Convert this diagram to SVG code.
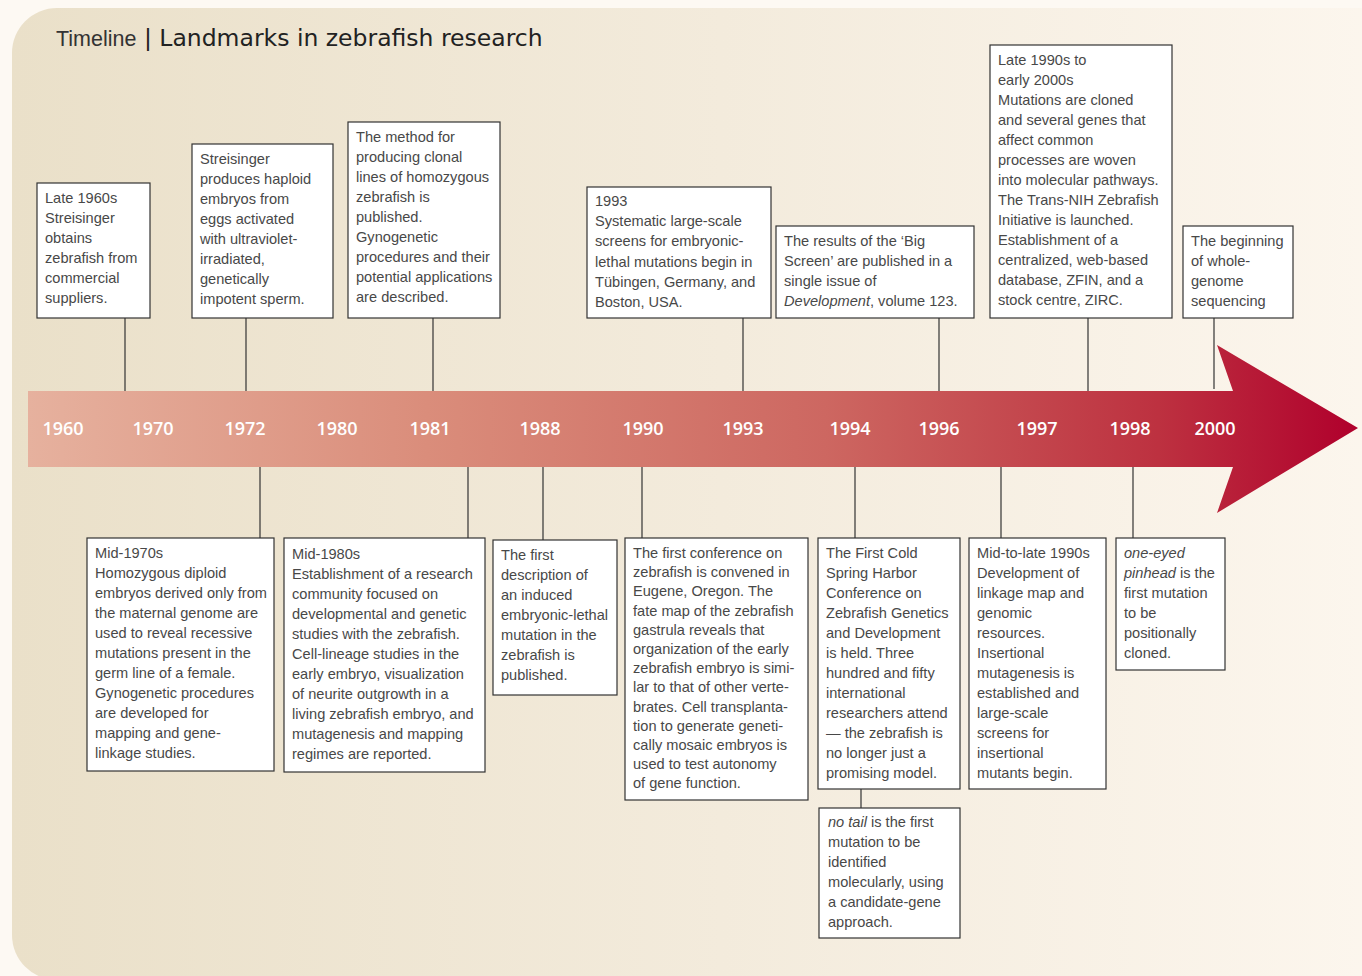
<svg xmlns="http://www.w3.org/2000/svg" width="1362" height="976" viewBox="0 0 1362 976">
<defs>
<linearGradient id="bg" x1="0" y1="0" x2="1" y2="0">
<stop offset="0" stop-color="#eae0c9"/>
<stop offset="0.5" stop-color="#f3ebdc"/>
<stop offset="1" stop-color="#fdf7ef"/>
</linearGradient>
<linearGradient id="arr" gradientUnits="userSpaceOnUse" x1="28" y1="0" x2="1358" y2="0">
<stop offset="0" stop-color="#e6b19e"/>
<stop offset="0.3" stop-color="#da8d7b"/>
<stop offset="0.6" stop-color="#cd6761"/>
<stop offset="0.85" stop-color="#bd3140"/>
<stop offset="1" stop-color="#b0002c"/>
</linearGradient>
<style>
.box{fill:#ffffff;stroke:#333333;stroke-width:1.2}
.t{font-family:"Liberation Sans",Arial,sans-serif;font-size:14.6px;fill:#484848}
.i{font-style:italic}
.yr{font-family:"Open Sans","DejaVu Sans",sans-serif;font-weight:600;font-size:18px;fill:#ffffff;text-anchor:middle}
.c{stroke:#333333;stroke-width:1.2;fill:none}
</style>
</defs>
<rect x="0" y="0" width="1362" height="976" fill="#fdf9f3"/>
<rect x="12" y="8" width="1420" height="972" rx="45" ry="45" fill="url(#bg)"/>
<text x="56" y="46" font-family="Liberation Sans,Arial,sans-serif" font-size="21.5" fill="#333">Timeline<tspan font-family="DejaVu Sans,sans-serif" font-size="23.5" fill="#222"> | Landmarks in zebrafish research</tspan></text>

<g id="arrow">
<path d="M28,391 L1233,391 L1217,345 L1358,428 L1217,513 L1233,467 L28,467 Z" fill="url(#arr)"/>
<text class="yr" x="63" y="435">1960</text>
<text class="yr" x="153" y="435">1970</text>
<text class="yr" x="245" y="435">1972</text>
<text class="yr" x="337" y="435">1980</text>
<text class="yr" x="430" y="435">1981</text>
<text class="yr" x="540" y="435">1988</text>
<text class="yr" x="643" y="435">1990</text>
<text class="yr" x="743" y="435">1993</text>
<text class="yr" x="850" y="435">1994</text>
<text class="yr" x="939" y="435">1996</text>
<text class="yr" x="1037" y="435">1997</text>
<text class="yr" x="1130" y="435">1998</text>
<text class="yr" x="1215" y="435">2000</text>
</g>

<g id="connectors">
<line class="c" x1="125" y1="318" x2="125" y2="391"/>
<line class="c" x1="246" y1="318" x2="246" y2="391"/>
<line class="c" x1="433" y1="318" x2="433" y2="391"/>
<line class="c" x1="743" y1="318" x2="743" y2="391"/>
<line class="c" x1="939" y1="318" x2="939" y2="391"/>
<line class="c" x1="1088" y1="318" x2="1088" y2="391"/>
<line class="c" x1="1214" y1="318" x2="1214" y2="389"/>
<line class="c" x1="260" y1="467" x2="260" y2="538"/>
<line class="c" x1="468" y1="467" x2="468" y2="538"/>
<line class="c" x1="543" y1="467" x2="543" y2="540"/>
<line class="c" x1="642" y1="467" x2="642" y2="538"/>
<line class="c" x1="855" y1="467" x2="855" y2="538"/>
<line class="c" x1="1001" y1="467" x2="1001" y2="538"/>
<line class="c" x1="1133" y1="467" x2="1133" y2="538"/>
<line class="c" x1="861" y1="789" x2="861" y2="808"/>
</g>

<g id="n1960s">
<rect class="box" x="37" y="183" width="113" height="135"/>
<text class="t" x="45" y="203"><tspan x="45">Late 1960s</tspan><tspan x="45" dy="20">Streisinger</tspan><tspan x="45" dy="20">obtains</tspan><tspan x="45" dy="20">zebrafish from</tspan><tspan x="45" dy="20">commercial</tspan><tspan x="45" dy="20">suppliers.</tspan></text>
</g>
<g id="n1972">
<rect class="box" x="192" y="144" width="141" height="174"/>
<text class="t" x="200" y="164"><tspan x="200">Streisinger</tspan><tspan x="200" dy="20">produces haploid</tspan><tspan x="200" dy="20">embryos from</tspan><tspan x="200" dy="20">eggs activated</tspan><tspan x="200" dy="20">with ultraviolet-</tspan><tspan x="200" dy="20">irradiated,</tspan><tspan x="200" dy="20">genetically</tspan><tspan x="200" dy="20">impotent sperm.</tspan></text>
</g>
<g id="n1981">
<rect class="box" x="348" y="122" width="152" height="196"/>
<text class="t" x="356" y="142"><tspan x="356">The method for</tspan><tspan x="356" dy="20">producing clonal</tspan><tspan x="356" dy="20">lines of homozygous</tspan><tspan x="356" dy="20">zebrafish is</tspan><tspan x="356" dy="20">published.</tspan><tspan x="356" dy="20">Gynogenetic</tspan><tspan x="356" dy="20">procedures and their</tspan><tspan x="356" dy="20">potential applications</tspan><tspan x="356" dy="20">are described.</tspan></text>
</g>
<g id="n1993">
<rect class="box" x="587" y="187" width="184" height="131"/>
<text class="t" x="595" y="206"><tspan x="595">1993</tspan><tspan x="595" dy="20.2">Systematic large-scale</tspan><tspan x="595" dy="20.2">screens for embryonic-</tspan><tspan x="595" dy="20.2">lethal mutations begin in</tspan><tspan x="595" dy="20.2">Tübingen, Germany, and</tspan><tspan x="595" dy="20.2">Boston, USA.</tspan></text>
</g>
<g id="n1996">
<rect class="box" x="776" y="226" width="198" height="92"/>
<text class="t" x="784" y="246"><tspan x="784">The results of the ‘Big</tspan><tspan x="784" dy="20">Screen’ are published in a</tspan><tspan x="784" dy="20">single issue of</tspan><tspan x="784" dy="20" class="i">Development</tspan><tspan>, volume 123.</tspan></text>
</g>
<g id="n1998top">
<rect class="box" x="990" y="45" width="182" height="273"/>
<text class="t" x="998" y="65"><tspan x="998">Late 1990s to</tspan><tspan x="998" dy="20">early 2000s</tspan><tspan x="998" dy="20">Mutations are cloned</tspan><tspan x="998" dy="20">and several genes that</tspan><tspan x="998" dy="20">affect common</tspan><tspan x="998" dy="20">processes are woven</tspan><tspan x="998" dy="20">into molecular pathways.</tspan><tspan x="998" dy="20">The Trans-NIH Zebrafish</tspan><tspan x="998" dy="20">Initiative is launched.</tspan><tspan x="998" dy="20">Establishment of a</tspan><tspan x="998" dy="20">centralized, web-based</tspan><tspan x="998" dy="20">database, ZFIN, and a</tspan><tspan x="998" dy="20">stock centre, ZIRC.</tspan></text>
</g>
<g id="n2000">
<rect class="box" x="1183" y="226" width="110" height="92"/>
<text class="t" x="1191" y="246"><tspan x="1191">The beginning</tspan><tspan x="1191" dy="20">of whole-</tspan><tspan x="1191" dy="20">genome</tspan><tspan x="1191" dy="20">sequencing</tspan></text>
</g>
<g id="n1970s">
<rect class="box" x="87" y="538" width="187" height="233"/>
<text class="t" x="95" y="558"><tspan x="95">Mid-1970s</tspan><tspan x="95" dy="20">Homozygous diploid</tspan><tspan x="95" dy="20">embryos derived only from</tspan><tspan x="95" dy="20">the maternal genome are</tspan><tspan x="95" dy="20">used to reveal recessive</tspan><tspan x="95" dy="20">mutations present in the</tspan><tspan x="95" dy="20">germ line of a female.</tspan><tspan x="95" dy="20">Gynogenetic procedures</tspan><tspan x="95" dy="20">are developed for</tspan><tspan x="95" dy="20">mapping and gene-</tspan><tspan x="95" dy="20">linkage studies.</tspan></text>
</g>
<g id="n1980s">
<rect class="box" x="284" y="538" width="201" height="234"/>
<text class="t" x="292" y="559"><tspan x="292">Mid-1980s</tspan><tspan x="292" dy="20">Establishment of a research</tspan><tspan x="292" dy="20">community focused on</tspan><tspan x="292" dy="20">developmental and genetic</tspan><tspan x="292" dy="20">studies with the zebrafish.</tspan><tspan x="292" dy="20">Cell-lineage studies in the</tspan><tspan x="292" dy="20">early embryo, visualization</tspan><tspan x="292" dy="20">of neurite outgrowth in a</tspan><tspan x="292" dy="20">living zebrafish embryo, and</tspan><tspan x="292" dy="20">mutagenesis and mapping</tspan><tspan x="292" dy="20">regimes are reported.</tspan></text>
</g>
<g id="n1988">
<rect class="box" x="493" y="540" width="124" height="155"/>
<text class="t" x="501" y="560"><tspan x="501">The first</tspan><tspan x="501" dy="20">description of</tspan><tspan x="501" dy="20">an induced</tspan><tspan x="501" dy="20">embryonic-lethal</tspan><tspan x="501" dy="20">mutation in the</tspan><tspan x="501" dy="20">zebrafish is</tspan><tspan x="501" dy="20">published.</tspan></text>
</g>
<g id="n1990">
<rect class="box" x="625" y="538" width="183" height="262"/>
<text class="t" x="633" y="558"><tspan x="633">The first conference on</tspan><tspan x="633" dy="19.2">zebrafish is convened in</tspan><tspan x="633" dy="19.2">Eugene, Oregon. The</tspan><tspan x="633" dy="19.2">fate map of the zebrafish</tspan><tspan x="633" dy="19.2">gastrula reveals that</tspan><tspan x="633" dy="19.2">organization of the early</tspan><tspan x="633" dy="19.2">zebrafish embryo is simi-</tspan><tspan x="633" dy="19.2">lar to that of other verte-</tspan><tspan x="633" dy="19.2">brates. Cell transplanta-</tspan><tspan x="633" dy="19.2">tion to generate geneti-</tspan><tspan x="633" dy="19.2">cally mosaic embryos is</tspan><tspan x="633" dy="19.2">used to test autonomy</tspan><tspan x="633" dy="19.2">of gene function.</tspan></text>
</g>
<g id="n1994">
<rect class="box" x="818" y="538" width="142" height="251"/>
<text class="t" x="826" y="558"><tspan x="826">The First Cold</tspan><tspan x="826" dy="20">Spring Harbor</tspan><tspan x="826" dy="20">Conference on</tspan><tspan x="826" dy="20">Zebrafish Genetics</tspan><tspan x="826" dy="20">and Development</tspan><tspan x="826" dy="20">is held. Three</tspan><tspan x="826" dy="20">hundred and fifty</tspan><tspan x="826" dy="20">international</tspan><tspan x="826" dy="20">researchers attend</tspan><tspan x="826" dy="20">— the zebrafish is</tspan><tspan x="826" dy="20">no longer just a</tspan><tspan x="826" dy="20">promising model.</tspan></text>
</g>
<g id="n1994b">
<rect class="box" x="819" y="808" width="141" height="130"/>
<text class="t" x="828" y="827"><tspan x="828" class="i">no tail</tspan><tspan> is the first</tspan><tspan x="828" dy="20">mutation to be</tspan><tspan x="828" dy="20">identified</tspan><tspan x="828" dy="20">molecularly, using</tspan><tspan x="828" dy="20">a candidate-gene</tspan><tspan x="828" dy="20">approach.</tspan></text>
</g>
<g id="n1997">
<rect class="box" x="969" y="538" width="137" height="251"/>
<text class="t" x="977" y="558"><tspan x="977">Mid-to-late 1990s</tspan><tspan x="977" dy="20">Development of</tspan><tspan x="977" dy="20">linkage map and</tspan><tspan x="977" dy="20">genomic</tspan><tspan x="977" dy="20">resources.</tspan><tspan x="977" dy="20">Insertional</tspan><tspan x="977" dy="20">mutagenesis is</tspan><tspan x="977" dy="20">established and</tspan><tspan x="977" dy="20">large-scale</tspan><tspan x="977" dy="20">screens for</tspan><tspan x="977" dy="20">insertional</tspan><tspan x="977" dy="20">mutants begin.</tspan></text>
</g>
<g id="n1998">
<rect class="box" x="1116" y="538" width="109" height="132"/>
<text class="t" x="1124" y="558"><tspan x="1124" class="i">one-eyed</tspan><tspan x="1124" dy="20" class="i">pinhead</tspan><tspan> is the</tspan><tspan x="1124" dy="20">first mutation</tspan><tspan x="1124" dy="20">to be</tspan><tspan x="1124" dy="20">positionally</tspan><tspan x="1124" dy="20">cloned.</tspan></text>
</g>
</svg>
